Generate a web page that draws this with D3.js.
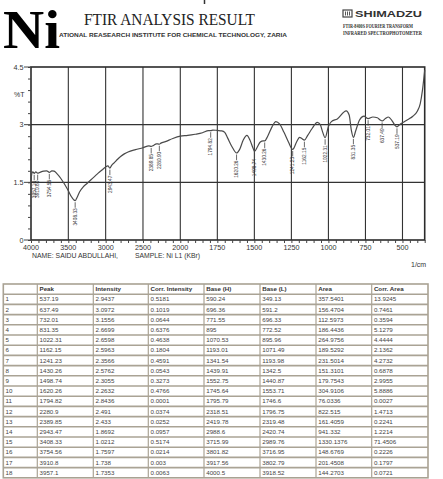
<!DOCTYPE html>
<html>
<head>
<meta charset="utf-8">
<script src="https://cdn.jsdelivr.net/npm/d3@7"></script>
<style>
  html, body { margin: 0; padding: 0; background: #fff; }
  svg { display: block; }
</style>
</head>
<body>
<svg id="chart" width="443" height="479"></svg>
<script>
// FTIR spectrum: [wavenumber (1/cm), %T]
const spectrum = [
  [4000, 1.50], [3990, 1.72], [3975, 1.77], [3957.1, 1.7353], [3935, 1.77],
  [3910.8, 1.738], [3880, 1.76], [3830, 1.79], [3790, 1.80], [3754.56, 1.7597],
  [3720, 1.80], [3690, 1.79], [3650, 1.72], [3600, 1.60], [3550, 1.45],
  [3500, 1.28], [3460, 1.13], [3430, 1.05], [3408.33, 1.0212], [3385, 1.10],
  [3350, 1.25], [3300, 1.38], [3250, 1.47], [3200, 1.56], [3150, 1.65],
  [3100, 1.74], [3050, 1.82], [3000, 1.90], [2970, 1.93], [2943.47, 1.8692],
  [2920, 1.94], [2880, 2.02], [2840, 2.10], [2800, 2.17], [2750, 2.24],
  [2700, 2.29], [2600, 2.35], [2500, 2.40], [2420, 2.45], [2389.85, 2.433],
  [2360, 2.46], [2320, 2.50], [2300, 2.50], [2280.9, 2.491], [2260, 2.52],
  [2200, 2.56], [2100, 2.64], [2000, 2.70], [1950, 2.72], [1900, 2.75],
  [1850, 2.79], [1810, 2.845], [1794.82, 2.8436], [1780, 2.86], [1750, 2.85],
  [1720, 2.84], [1700, 2.80], [1680, 2.65], [1650, 2.42], [1620.26, 2.2632],
  [1600, 2.35], [1575, 2.60], [1550, 2.72], [1530, 2.60], [1510, 2.40],
  [1498.74, 2.3055], [1480, 2.42], [1460, 2.55], [1440, 2.58], [1430.26, 2.5762],
  [1410, 2.70], [1380, 2.95], [1355, 3.08], [1330, 3.02], [1300, 2.80],
  [1270, 2.55], [1241.23, 2.3566], [1215, 2.55], [1195, 2.67], [1180, 2.64],
  [1162.15, 2.5963], [1140, 2.72], [1110, 2.90], [1075, 3.06], [1055, 3.00],
  [1040, 2.82], [1022.31, 2.6598], [1000, 2.95], [980, 3.08], [940, 3.15],
  [880, 3.36], [860, 3.25], [845, 2.85], [831.35, 2.6699], [815, 2.85],
  [790, 3.12], [760, 3.22], [732.01, 3.1556], [700, 3.20], [670, 3.18],
  [650, 3.12], [637.49, 3.0972], [615, 3.16], [595, 3.20], [570, 3.10],
  [550, 2.98], [537.19, 2.9437], [520, 3.00], [490, 3.07], [460, 3.14],
  [430, 3.22], [400, 3.35], [380, 3.55], [365, 3.90], [350, 4.42]
];

// Peak table columns
const peakNo        = d3.range(1, 19);
const peakPos       = ["537.19","637.49","732.01","831.35","1022.31","1162.15","1241.23","1430.26","1498.74","1620.26","1794.82","2280.9","2389.85","2943.47","3408.33","3754.56","3910.8","3957.1"];
const intensity     = ["2.9437","3.0972","3.1556","2.6699","2.6598","2.5963","2.3566","2.5762","2.3055","2.2632","2.8436","2.491","2.433","1.8692","1.0212","1.7597","1.738","1.7353"];
const corrIntensity = ["0.5181","0.1019","0.0644","0.6376","0.4638","0.1804","0.4591","0.0543","0.3273","0.4766","0.0001","0.0374","0.0252","0.0957","0.5174","0.0214","0.003","0.0063"];
const baseHigh      = ["590.24","696.36","771.55","895","1070.53","1193.01","1341.54","1439.91","1552.75","1745.64","1795.79","2318.51","2419.78","2988.6","3715.99","3801.82","3917.56","4000.5"];
const baseLow       = ["349.13","591.2","696.33","772.52","895.96","1071.49","1193.98","1342.5","1440.87","1553.71","1746.6","1796.75","2319.48","2420.74","2989.76","3716.95","3802.79","3918.52"];
const area          = ["357.5401","156.4704","112.5973","186.4436","264.9756","189.5292","231.5014","151.3101","179.7543","304.9106","76.0336","822.515","161.4059","941.332","1330.1376","148.6769","201.4508","144.2703"];
const corrArea      = ["13.9245","0.7461","0.3594","5.1279","4.4444","2.1362","4.2732","0.6878","2.9955","5.8886","0.0027","1.4713","0.2241","1.2214","71.4506","0.2226","0.1797","0.0721"];
const tableHeaders  = ["", "Peak", "Intensity", "Corr. Intensity", "Base (H)", "Base (L)", "Area", "Corr. Area"];

// Axis ticks
const xTickValues = [4000, 3500, 3000, 2500, 2000, 1750, 1500, 1250, 1000, 750, 500];
const yTickValues = [0, 1.5, 3, 4.5];

const svg = d3.select("#chart");
const ink = "#2b2b2b";

// ---------- header ----------
svg.append("line").attr("x1", 204.5).attr("x2", 204.5).attr("y1", 0).attr("y2", 4)
  .attr("stroke", "#333").attr("stroke-width", 1.5);

svg.append("text").attr("x", 84).attr("y", 25)
  .attr("font-family", "Liberation Serif, serif").attr("font-size", 17)
  .attr("textLength", 171).attr("lengthAdjust", "spacingAndGlyphs")
  .attr("fill", "#222").text("FTIR ANALYSIS RESULT");

svg.append("text").attr("x", 59).attr("y", 36.5)
  .attr("font-family", "Liberation Sans, Arial, sans-serif").attr("font-size", 6.2).attr("font-weight", "bold")
  .attr("textLength", 228).attr("lengthAdjust", "spacingAndGlyphs")
  .attr("fill", "#333").text("ATIONAL REASEARCH INSTITUTE FOR CHEMICAL TECHNOLOGY, ZARIA");

svg.append("text").attr("x", 3).attr("y", 48)
  .attr("font-family", "Liberation Serif, serif").attr("font-size", 54).attr("font-weight", "bold")
  .attr("textLength", 57).attr("lengthAdjust", "spacingAndGlyphs")
  .attr("fill", "#000").text("Ni");

// Shimadzu badge
const logo = svg.append("g").attr("transform", "translate(343,10)");
logo.append("rect").attr("width", 9).attr("height", 7).attr("fill", "none").attr("stroke", "#444").attr("stroke-width", 1.2);
logo.append("path").attr("d", "M2.5,1.5V5.5M4.5,1.5V5.5M6.5,1.5V5.5").attr("stroke", "#444").attr("stroke-width", 0.9);
svg.append("text").attr("x", 355).attr("y", 16.8)
  .attr("font-family", "Liberation Sans, Arial, sans-serif").attr("font-size", 8.5).attr("font-weight", "bold")
  .attr("textLength", 67).attr("lengthAdjust", "spacingAndGlyphs")
  .attr("fill", "#333").text("SHIMADZU");
svg.append("text").attr("x", 343).attr("y", 28)
  .attr("font-family", "Liberation Serif, serif").attr("font-size", 5.4).attr("font-weight", "bold")
  .attr("textLength", 70).attr("lengthAdjust", "spacingAndGlyphs")
  .attr("fill", "#333").text("FTIR-8400S FOURIER TRANSFORM");
svg.append("text").attr("x", 343).attr("y", 34.5)
  .attr("font-family", "Liberation Serif, serif").attr("font-size", 5.4).attr("font-weight", "bold")
  .attr("textLength", 79).attr("lengthAdjust", "spacingAndGlyphs")
  .attr("fill", "#333").text("INFRARED SPECTROPHOTOMETER");

// ---------- spectrum plot ----------
const plot = { left: 31, right: 424.7, top: 67, bottom: 240 };

// Shimadzu style: 4000–2000 region drawn at half the scale of 2000–350
const x = d3.scaleLinear().domain([4000, 2000, 350]).range([plot.left, 180.3, plot.right]);
const y = d3.scaleLinear().domain([0, 4.5]).range([plot.bottom, plot.top]);

// grid
const grid = svg.append("g").attr("stroke", "#333").attr("stroke-width", 1.1);
grid.selectAll("line.v").data(xTickValues.slice(1)).join("line")
  .attr("x1", d => x(d)).attr("x2", d => x(d)).attr("y1", plot.top).attr("y2", plot.bottom);
grid.selectAll("line.h").data([1.5, 3]).join("line")
  .attr("x1", plot.left).attr("x2", plot.right).attr("y1", d => y(d)).attr("y2", d => y(d));

// frame
svg.append("rect").attr("x", plot.left).attr("y", plot.top)
  .attr("width", plot.right - plot.left).attr("height", plot.bottom - plot.top)
  .attr("fill", "none").attr("stroke", ink).attr("stroke-width", 1.6);

// x axis with minor ticks
const xMinor = d3.range(4000, 2000, -100).concat(d3.range(2000, 349, -50));
const xAxis = d3.axisBottom(x).tickValues(xMinor).tickSize(3).tickFormat("");
svg.append("g").attr("transform", `translate(0,${plot.bottom})`).call(xAxis)
  .call(g => g.select(".domain").remove())
  .call(g => g.selectAll("line").attr("stroke", "#444"));
svg.append("g").selectAll("text").data(xTickValues).join("text")
  .attr("x", d => x(d)).attr("y", 249.5)
  .attr("text-anchor", "middle")
  .attr("font-family", "Liberation Sans, Arial, sans-serif").attr("font-size", 7.2)
  .attr("fill", "#333").text(d => d);

// y axis with minor ticks
const yMinor = d3.range(0, 4.51, 0.3);
const yAxis = d3.axisLeft(y).tickValues(yMinor).tickSize(3).tickFormat("");
svg.append("g").attr("transform", `translate(${plot.left},0)`).call(yAxis)
  .call(g => g.select(".domain").remove())
  .call(g => g.selectAll("line").attr("stroke", "#444"));
svg.append("g").selectAll("line").data(yTickValues).join("line")
  .attr("x1", plot.left - 7).attr("x2", plot.left).attr("y1", d => y(d)).attr("y2", d => y(d))
  .attr("stroke", "#444").attr("stroke-width", 1);
svg.append("g").selectAll("text").data(yTickValues).join("text")
  .attr("x", plot.left - 7.5).attr("y", d => y(d)).attr("dy", "0.35em")
  .attr("text-anchor", "end")
  .attr("font-family", "Liberation Sans, Arial, sans-serif").attr("font-size", 7.2)
  .attr("fill", "#333").text(d => d);
svg.append("text").attr("x", 14).attr("y", 96.5)
  .attr("font-family", "Liberation Sans, Arial, sans-serif").attr("font-size", 7)
  .attr("fill", "#333").text("%T");

// spectrum line
const line = d3.line().x(d => x(d[0])).y(d => y(d[1])).curve(d3.curveMonotoneX);
svg.append("path").datum(spectrum).attr("d", line)
  .attr("fill", "none").attr("stroke", "#4a4a4a").attr("stroke-width", 1.2);

// peak markers and rotated wavenumber labels
const peaks = peakPos.map((p, i) => ({ wn: +p, t: +intensity[i], label: (+p).toFixed(2) }));
const pk = svg.append("g");
pk.selectAll("line").data(peaks).join("line")
  .attr("x1", d => x(d.wn)).attr("x2", d => x(d.wn))
  .attr("y1", d => y(d.t) + 1.5).attr("y2", d => y(d.t) + 7)
  .attr("stroke", "#444").attr("stroke-width", 0.8);
pk.selectAll("text").data(peaks).join("text")
  .attr("transform", d => `translate(${x(d.wn)},${y(d.t) + 7.5}) rotate(-90)`)
  .attr("text-anchor", "end").attr("dy", "0.35em")
  .attr("font-family", "Liberation Sans, Arial, sans-serif").attr("font-size", 4.8)
  .attr("fill", "#333").text(d => d.label);

// footer of the plot
svg.append("text").attr("x", 32).attr("y", 257.5)
  .attr("font-family", "Liberation Sans, Arial, sans-serif").attr("font-size", 7.2)
  .attr("textLength", 86).attr("lengthAdjust", "spacingAndGlyphs")
  .attr("fill", "#333").text("NAME: SAIDU ABDULLAHI,");
svg.append("text").attr("x", 135).attr("y", 257.5)
  .attr("font-family", "Liberation Sans, Arial, sans-serif").attr("font-size", 7.2)
  .attr("textLength", 65).attr("lengthAdjust", "spacingAndGlyphs")
  .attr("fill", "#333").text("SAMPLE: Ni L1 (KBr)");
svg.append("text").attr("x", 411).attr("y", 267)
  .attr("font-family", "Liberation Sans, Arial, sans-serif").attr("font-size", 7)
  .attr("fill", "#333").text("1/cm");

// ---------- peak table ----------
const colEdges = [3.3, 37.3, 93.3, 148.3, 204, 260, 316, 371.7, 428];
const tableTop = 284, rowH = 10.2;
const rows = peakNo.map((n, i) => [String(n), peakPos[i], intensity[i], corrIntensity[i], baseHigh[i], baseLow[i], area[i], corrArea[i]]);
const allRows = [tableHeaders].concat(rows);
const tableBottom = tableTop + rowH * allRows.length;

const tbl = svg.append("g");
tbl.append("rect").attr("x", colEdges[0]).attr("y", tableTop)
  .attr("width", colEdges[8] - colEdges[0]).attr("height", tableBottom - tableTop)
  .attr("fill", "#fff").attr("stroke", "#a9a293").attr("stroke-width", 1.6);
tbl.selectAll("line.r").data(d3.range(1, allRows.length)).join("line")
  .attr("x1", colEdges[0]).attr("x2", colEdges[8])
  .attr("y1", i => tableTop + i * rowH).attr("y2", i => tableTop + i * rowH)
  .attr("stroke", "#aaa395").attr("stroke-width", 1.6);
tbl.selectAll("line.c").data(colEdges.slice(1, 8)).join("line")
  .attr("x1", d => d).attr("x2", d => d).attr("y1", tableTop).attr("y2", tableBottom)
  .attr("stroke", "#aaa395").attr("stroke-width", 1.2);

tbl.selectAll("g.row").data(allRows).join("g")
  .attr("transform", (r, i) => `translate(0,${tableTop + i * rowH + rowH / 2})`)
  .each(function (r, i) {
    d3.select(this).selectAll("text").data(r).join("text")
      .attr("x", (v, j) => colEdges[j] + 2.2).attr("dy", "0.35em")
      .attr("font-family", "Liberation Sans, Arial, sans-serif")
      .attr("font-size", 6.2)
      .attr("font-weight", i === 0 ? "bold" : "normal")
      .attr("fill", i === 0 ? "#333" : "#444")
      .text(v => v);
  });
</script>
</body>
</html>
